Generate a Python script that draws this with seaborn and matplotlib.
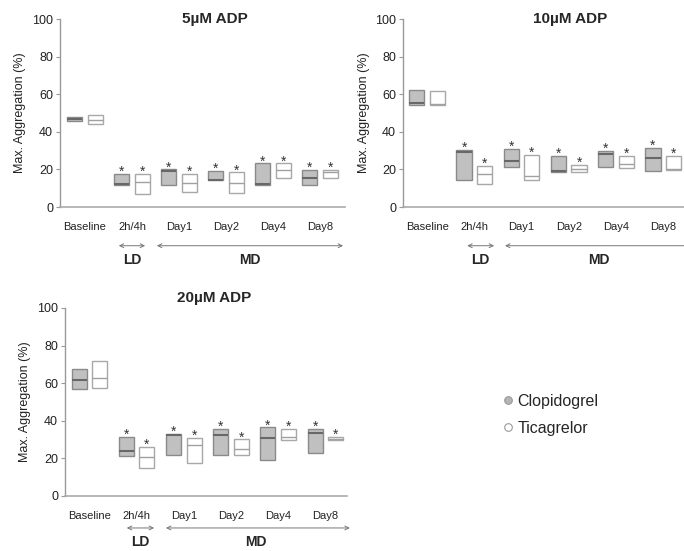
import matplotlib
matplotlib.use("Agg")
import matplotlib.pyplot as plt
from matplotlib.lines import Line2D
import numpy as np
import pandas as pd
import seaborn as sns

# ---------------- data ----------------
categories = ["Baseline", "2h/4h", "Day1", "Day2", "Day4", "Day8"]
drugs = ["Clopidogrel", "Ticagrelor"]
titles = ["5\u00b5M ADP", "10\u00b5M ADP", "20\u00b5M ADP"]
yticks = [0, 20, 40, 60, 80, 100]

# 5 uM ADP
adp5_clop_q1 = [45.6, 11.9, 11.9, 14.4, 11.5, 11.5]
adp5_clop_med = [46.8, 12.4, 19.0, 14.6, 12.1, 15.3]
adp5_clop_q3 = [48.0, 17.4, 20.0, 19.1, 23.2, 19.5]
adp5_tica_q1 = [44.0, 6.9, 7.8, 7.3, 15.6, 15.3]
adp5_tica_med = [46.4, 13.1, 12.6, 12.6, 19.5, 18.4]
adp5_tica_q3 = [48.8, 17.7, 17.4, 18.4, 23.2, 19.5]

# 10 uM ADP
adp10_clop_q1 = [54.4, 14.4, 21.1, 18.8, 21.3, 19.1]
adp10_clop_med = [55.2, 29.4, 24.6, 19.0, 28.2, 26.2]
adp10_clop_q3 = [62.1, 30.3, 30.9, 27.3, 29.8, 31.4]
adp10_tica_q1 = [54.4, 12.0, 14.4, 18.4, 20.7, 19.5]
adp10_tica_med = [54.6, 17.7, 16.3, 20.4, 22.7, 20.2]
adp10_tica_q3 = [61.7, 22.0, 27.8, 22.2, 27.3, 27.0]

# 20 uM ADP
adp20_clop_q1 = [56.7, 21.3, 21.8, 22.0, 19.0, 22.9]
adp20_clop_med = [61.5, 23.9, 32.3, 32.3, 30.7, 33.4]
adp20_clop_q3 = [67.4, 31.2, 32.8, 35.6, 36.5, 35.5]
adp20_tica_q1 = [57.3, 14.9, 17.7, 21.8, 29.6, 29.6]
adp20_tica_med = [62.6, 20.7, 27.0, 24.8, 31.2, 30.5]
adp20_tica_q3 = [72.0, 25.9, 30.7, 30.1, 35.6, 31.2]

# significance markers (1 = asterisk above the box)
signif = [0, 1, 1, 1, 1, 1]

panels = [
    dict(clop=(adp5_clop_q1, adp5_clop_med, adp5_clop_q3),
         tica=(adp5_tica_q1, adp5_tica_med, adp5_tica_q3)),
    dict(clop=(adp10_clop_q1, adp10_clop_med, adp10_clop_q3),
         tica=(adp10_tica_q1, adp10_tica_med, adp10_tica_q3)),
    dict(clop=(adp20_clop_q1, adp20_clop_med, adp20_clop_q3),
         tica=(adp20_tica_q1, adp20_tica_med, adp20_tica_q3)),
]


def long_frame(stats, drug):
    """Build rows whose quartiles equal (q1, median, q3) exactly."""
    q1, med, q3 = stats
    rows = []
    for c, a, m, b in zip(categories, q1, med, q3):
        for v in (a, a, m, b, b):
            rows.append({"Time": c, "Drug": drug, "Value": v})
    return pd.DataFrame(rows)


# ---------------- style ----------------
sns.set_style("white")
plt.rcParams["font.family"] = ["Liberation Sans", "DejaVu Sans"]

W, H = 684, 551
fig = plt.figure(figsize=(W / 100, H / 100), dpi=100)

# layout in pixels: (left, top, right, bottom), xlim
layout = [
    dict(px=(60, 19, 345, 207), xlim=(-0.53, 5.53), title_xy=(0.544, 1.0),
         arrow_y=-0.206, text_y=-0.282, ld=(0.72, 1.28), md=(1.53, 5.49),
         ld_x=1.0, md_x=3.51),
    dict(px=(403, 19, 684, 207), xlim=(-0.51, 5.44), title_xy=(0.594, 1.0),
         arrow_y=-0.206, text_y=-0.282, ld=(0.85, 1.42), md=(1.65, 5.6),
         ld_x=1.12, md_x=3.64),
    dict(px=(65, 308, 347, 496), xlim=(-0.52, 5.46), title_xy=(0.53, 1.053),
         arrow_y=-0.170, text_y=-0.245, ld=(0.79, 1.37), md=(1.62, 5.52),
         ld_x=1.07, md_x=3.53),
]

box_width = 0.87
box_gap = 0.264
fills = {"Clopidogrel": "#c0c0c0", "Ticagrelor": "#ffffff"}
edges = {"Clopidogrel": "#8a8a8a", "Ticagrelor": "#a8a8a8"}
medcol = {"Clopidogrel": "#686868", "Ticagrelor": "#a0a0a0"}
medlw = {"Clopidogrel": 1.5, "Ticagrelor": 1.0}

for p, lay, title in zip(panels, layout, titles):
    l, t, r, b = lay["px"]
    ax = fig.add_axes([l / W, (H - b) / H, (r - l) / W, (b - t) / H])
    for key, drug in (("clop", "Clopidogrel"), ("tica", "Ticagrelor")):
        df = long_frame(p[key], drug)
        sns.boxplot(data=df, x="Time", y="Value", hue="Drug",
                    order=categories, hue_order=drugs,
                    palette=fills, saturation=1, dodge=True,
                    width=box_width, gap=box_gap, linecolor=edges[drug],
                    linewidth=1.0, showcaps=False, showfliers=False,
                    whiskerprops=dict(linewidth=0),
                    medianprops=dict(color=medcol[drug], linewidth=medlw[drug]),
                    legend=False, ax=ax)
        # asterisks above boxes
        off = (-1 if drug == "Clopidogrel" else 1) * box_width / 4
        for i, (q3, s) in enumerate(zip(p[key][2], signif)):
            if s:
                ax.annotate("*", xy=(i + off, q3), xytext=(0, 1.5),
                            textcoords="offset points", ha="center",
                            va="center", fontsize=10, color="#333333")

    ax.set_xlim(*lay["xlim"])
    ax.set_ylim(0, 100)
    ax.set_yticks(yticks)
    ax.set_xlabel("")
    ax.set_ylabel("Max. Aggregation (%)", fontsize=9, color="#222222")
    for side in ("top", "right"):
        ax.spines[side].set_visible(False)
    ax.spines["left"].set_color("#999999")
    ax.spines["bottom"].set_color("#aaaaaa")
    ax.spines["left"].set_linewidth(1.0)
    ax.spines["bottom"].set_linewidth(1.2)
    ax.tick_params(axis="y", left=True, length=3, width=0.8, color="#999999",
                   labelsize=9, labelcolor="#222222", pad=2)
    ax.tick_params(axis="x", bottom=False, length=0, labelsize=8,
                   labelcolor="#222222", pad=11)
    ax.text(*lay["title_xy"], title, transform=ax.transAxes, ha="center",
            va="center", fontsize=11, fontweight="bold")

    tr = ax.get_xaxis_transform()
    for x0, x1 in (lay["ld"], lay["md"]):
        ax.annotate("", xy=(x1, lay["arrow_y"]), xytext=(x0, lay["arrow_y"]),
                    xycoords=tr, textcoords=tr, annotation_clip=False,
                    arrowprops=dict(arrowstyle="<->", color="#777777", lw=0.7,
                                    shrinkA=0, shrinkB=0, mutation_scale=7))
    ax.text(lay["ld_x"], lay["text_y"], "LD", transform=tr, ha="center",
            va="center", fontsize=10, fontweight="bold", clip_on=False)
    ax.text(lay["md_x"], lay["text_y"], "MD", transform=tr, ha="center",
            va="center", fontsize=10, fontweight="bold", clip_on=False)

# legend
handles = [
    Line2D([], [], ls="", marker="o", markersize=5.5, markerfacecolor="#b5b5b5",
           markeredgecolor="#9a9a9a", markeredgewidth=0.8),
    Line2D([], [], ls="", marker="o", markersize=5.5, markerfacecolor="#ffffff",
           markeredgecolor="#9a9a9a", markeredgewidth=0.8),
]
fig.legend(handles, drugs, loc="upper left",
           bbox_to_anchor=(503 / W, (H - 394) / H), frameon=False,
           fontsize=11.5, handlelength=0.6, handletextpad=0.3,
           labelspacing=0.75, borderpad=0, borderaxespad=0)

fig.savefig("out.png", dpi=100)
